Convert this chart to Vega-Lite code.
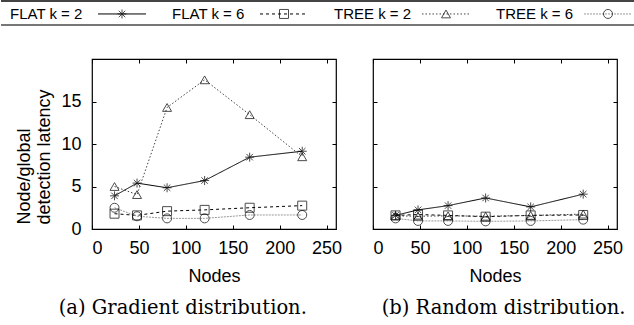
{
  "$schema": "https://vega.github.io/schema/vega-lite/v6.json",
  "padding": {"left": 0, "top": 0, "right": 0, "bottom": 0},
  "background": "white",
  "config": {
    "font": "Liberation Sans, Arial, Helvetica, sans-serif",
    "view": {"stroke": "#000", "strokeWidth": 1.2},
    "axis": {
      "domain": false, "grid": false,
      "labelFont": "Liberation Sans, Arial, Helvetica, sans-serif", "labelFontSize": 18, "labelColor": "#000",
      "tickColor": "#000", "tickSize": -4, "tickWidth": 1,
      "titleFont": "Liberation Sans, Arial, Helvetica, sans-serif", "titleFontSize": 18, "titleFontWeight": "normal", "titleColor": "#000"
    },
    "title": {"font": "DejaVu Serif", "fontSize": 19.5, "fontWeight": "normal", "color": "#000", "orient": "bottom", "offset": 14, "frame": "bounds"}
  },
  "datasets": {
    "legend": [
      {"series": "FLAT k = 2"}, {"series": "FLAT k = 6"}, {"series": "TREE k = 2"}, {"series": "TREE k = 6"}
    ],
    "gradient": [
      {"series": "FLAT k = 2", "nodes": 24, "latency": 3.9},
      {"series": "FLAT k = 2", "nodes": 48, "latency": 5.4},
      {"series": "FLAT k = 2", "nodes": 80, "latency": 4.85},
      {"series": "FLAT k = 2", "nodes": 120, "latency": 5.7},
      {"series": "FLAT k = 2", "nodes": 168, "latency": 8.45},
      {"series": "FLAT k = 2", "nodes": 224, "latency": 9.15},
      {"series": "FLAT k = 6", "nodes": 24, "latency": 1.8},
      {"series": "FLAT k = 6", "nodes": 48, "latency": 1.6},
      {"series": "FLAT k = 6", "nodes": 80, "latency": 2.1},
      {"series": "FLAT k = 6", "nodes": 120, "latency": 2.25},
      {"series": "FLAT k = 6", "nodes": 168, "latency": 2.5},
      {"series": "FLAT k = 6", "nodes": 224, "latency": 2.75},
      {"series": "TREE k = 2", "nodes": 24, "latency": 5.0},
      {"series": "TREE k = 2", "nodes": 48, "latency": 4.05},
      {"series": "TREE k = 2", "nodes": 80, "latency": 14.3},
      {"series": "TREE k = 2", "nodes": 120, "latency": 17.55},
      {"series": "TREE k = 2", "nodes": 168, "latency": 13.45},
      {"series": "TREE k = 2", "nodes": 224, "latency": 8.5},
      {"series": "TREE k = 6", "nodes": 24, "latency": 2.5},
      {"series": "TREE k = 6", "nodes": 48, "latency": 1.5},
      {"series": "TREE k = 6", "nodes": 80, "latency": 1.25},
      {"series": "TREE k = 6", "nodes": 120, "latency": 1.25},
      {"series": "TREE k = 6", "nodes": 168, "latency": 1.65},
      {"series": "TREE k = 6", "nodes": 224, "latency": 1.65}
    ],
    "random": [
      {"series": "FLAT k = 2", "nodes": 24, "latency": 1.6},
      {"series": "FLAT k = 2", "nodes": 48, "latency": 2.25},
      {"series": "FLAT k = 2", "nodes": 80, "latency": 2.75},
      {"series": "FLAT k = 2", "nodes": 120, "latency": 3.65},
      {"series": "FLAT k = 2", "nodes": 168, "latency": 2.6},
      {"series": "FLAT k = 2", "nodes": 224, "latency": 4.1},
      {"series": "FLAT k = 6", "nodes": 24, "latency": 1.6},
      {"series": "FLAT k = 6", "nodes": 48, "latency": 1.7},
      {"series": "FLAT k = 6", "nodes": 80, "latency": 1.6},
      {"series": "FLAT k = 6", "nodes": 120, "latency": 1.45},
      {"series": "FLAT k = 6", "nodes": 168, "latency": 1.6},
      {"series": "FLAT k = 6", "nodes": 224, "latency": 1.65},
      {"series": "TREE k = 2", "nodes": 24, "latency": 1.55},
      {"series": "TREE k = 2", "nodes": 48, "latency": 1.5},
      {"series": "TREE k = 2", "nodes": 80, "latency": 1.55},
      {"series": "TREE k = 2", "nodes": 120, "latency": 1.5},
      {"series": "TREE k = 2", "nodes": 168, "latency": 1.6},
      {"series": "TREE k = 2", "nodes": 224, "latency": 1.75},
      {"series": "TREE k = 6", "nodes": 24, "latency": 1.25},
      {"series": "TREE k = 6", "nodes": 48, "latency": 0.95},
      {"series": "TREE k = 6", "nodes": 80, "latency": 0.95},
      {"series": "TREE k = 6", "nodes": 120, "latency": 0.9},
      {"series": "TREE k = 6", "nodes": 168, "latency": 0.95},
      {"series": "TREE k = 6", "nodes": 224, "latency": 1.1}
    ]
  },
  "spacing": 31,
  "vconcat": [
    {
      "width": 648,
      "height": 24,
      "view": {"stroke": null},
      "layer": [
        {
          "data": {"name": "legend"},
          "transform": [{"filter": "datum.series === 'FLAT k = 2'"}],
          "mark": {"type": "rule", "color": "#444", "strokeWidth": 2, "xOffset": -172, "x2Offset": 0},
          "encoding": {
            "x": {"datum": "FLAT k = 2", "type": "nominal", "scale": {"type": "band", "paddingInner": 0, "paddingOuter": 0, "domain": ["FLAT k = 2", "FLAT k = 6", "TREE k = 2", "TREE k = 6"]}, "axis": null},
            "x2": {"datum": "TREE k = 6"},
            "y": {"datum": 1, "type": "quantitative", "scale": {"domain": [0, 1]}, "axis": null}
          }
        },
        {
          "data": {"name": "legend"},
          "transform": [{"filter": "datum.series === 'FLAT k = 2'"}],
          "mark": {"type": "rule", "color": "#777", "strokeWidth": 2, "xOffset": -172, "x2Offset": 0},
          "encoding": {
            "x": {"datum": "FLAT k = 2", "type": "nominal"},
            "x2": {"datum": "TREE k = 6"},
            "y": {"datum": 0, "type": "quantitative"}
          }
        },
        {
          "data": {"name": "legend"},
          "mark": {"type": "text", "align": "left", "baseline": "middle", "dx": -163, "fontSize": 15, "color": "#000"},
          "encoding": {
            "x": {"field": "series", "type": "nominal"},
            "y": {"datum": 0.46, "type": "quantitative"},
            "text": {"field": "series"}
          }
        },
        {
          "data": {"name": "legend"},
          "mark": {"type": "rule", "strokeWidth": 1, "xOffset": -75, "x2Offset": -27},
          "encoding": {
            "x": {"field": "series", "type": "nominal"},
            "x2": {"field": "series"},
            "y": {"datum": 0.46, "type": "quantitative"},
            "color": {"field": "series", "type": "nominal", "legend": null},
            "strokeDash": {"field": "series", "type": "nominal", "legend": null}
          }
        },
        {
          "data": {"name": "legend"},
          "mark": {"type": "point", "filled": false, "size": 81, "strokeWidth": 1, "color": "#000", "xOffset": -51},
          "encoding": {
            "x": {"field": "series", "type": "nominal"},
            "y": {"datum": 0.46, "type": "quantitative"},
            "shape": {"field": "series", "type": "nominal", "legend": null}
          }
        }
      ]
    },
    {
      "spacing": 28,
      "hconcat": [
        {
          "width": 244,
          "height": 170,
          "title": {"text": "(a) Gradient distribution.", "dx": 4},
          "data": {"name": "gradient"},
          "layer": [
            {
              "mark": {"type": "line", "strokeWidth": 1},
              "encoding": {
                "x": {"field": "nodes", "type": "quantitative", "scale": {"domain": [0, 250]}, "axis": {"orient": "bottom", "values": [0, 50, 100, 150, 200, 250], "title": "Nodes", "labelPadding": 14, "titlePadding": 10}},
                "y": {"field": "latency", "type": "quantitative", "scale": {"domain": [0, 20]}, "axis": {"orient": "left", "values": [0, 5, 10, 15], "title": ["Node/global", "detection latency"], "labelPadding": 15, "titlePadding": 7, "titleAngle": -90, "titleAlign": "left", "titleY": 165}},
                "color": {"field": "series", "type": "nominal", "legend": null, "scale": {"domain": ["FLAT k = 2", "FLAT k = 6", "TREE k = 2", "TREE k = 6"], "range": ["#000000", "#000000", "#444444", "#999999"]}},
                "strokeDash": {"field": "series", "type": "nominal", "legend": null, "scale": {"domain": ["FLAT k = 2", "FLAT k = 6", "TREE k = 2", "TREE k = 6"], "range": [[1, 0], [3, 3], [1.5, 2], [2, 1]]}}
              }
            },
            {
              "mark": {"type": "point", "filled": false, "size": 81, "strokeWidth": 1, "color": "#000"},
              "encoding": {
                "x": {"field": "nodes", "type": "quantitative", "axis": {"orient": "top", "values": [0, 50, 100, 150, 200, 250], "labels": false, "title": null}},
                "y": {"field": "latency", "type": "quantitative", "axis": {"orient": "right", "values": [0, 5, 10, 15], "labels": false, "title": null}},
                "shape": {"field": "series", "type": "nominal", "legend": null, "scale": {"domain": ["FLAT k = 2", "FLAT k = 6", "TREE k = 2", "TREE k = 6"], "range": ["M-1,0L1,0M0,-1L0,1M-0.72,-0.72L0.72,0.72M-0.72,0.72L0.72,-0.72", "square", "triangle-up", "circle"]}}
              }
            }
          ]
        },
        {
          "width": 244,
          "height": 170,
          "title": {"text": "(b) Random distribution.", "dx": 6},
          "data": {"name": "random"},
          "layer": [
            {
              "mark": {"type": "line", "strokeWidth": 1},
              "encoding": {
                "x": {"field": "nodes", "type": "quantitative", "scale": {"domain": [0, 250]}, "axis": {"orient": "bottom", "values": [0, 50, 100, 150, 200, 250], "title": "Nodes", "labelPadding": 14, "titlePadding": 10}},
                "y": {"field": "latency", "type": "quantitative", "scale": {"domain": [0, 20]}, "axis": {"orient": "left", "values": [0, 5, 10, 15], "labels": false, "title": null}},
                "color": {"field": "series", "type": "nominal", "legend": null},
                "strokeDash": {"field": "series", "type": "nominal", "legend": null}
              }
            },
            {
              "mark": {"type": "point", "filled": false, "size": 81, "strokeWidth": 1, "color": "#000"},
              "encoding": {
                "x": {"field": "nodes", "type": "quantitative", "axis": {"orient": "top", "values": [0, 50, 100, 150, 200, 250], "labels": false, "title": null}},
                "y": {"field": "latency", "type": "quantitative", "axis": {"orient": "right", "values": [0, 5, 10, 15], "labels": false, "title": null}},
                "shape": {"field": "series", "type": "nominal", "legend": null}
              }
            }
          ]
        }
      ]
    }
  ]
}
